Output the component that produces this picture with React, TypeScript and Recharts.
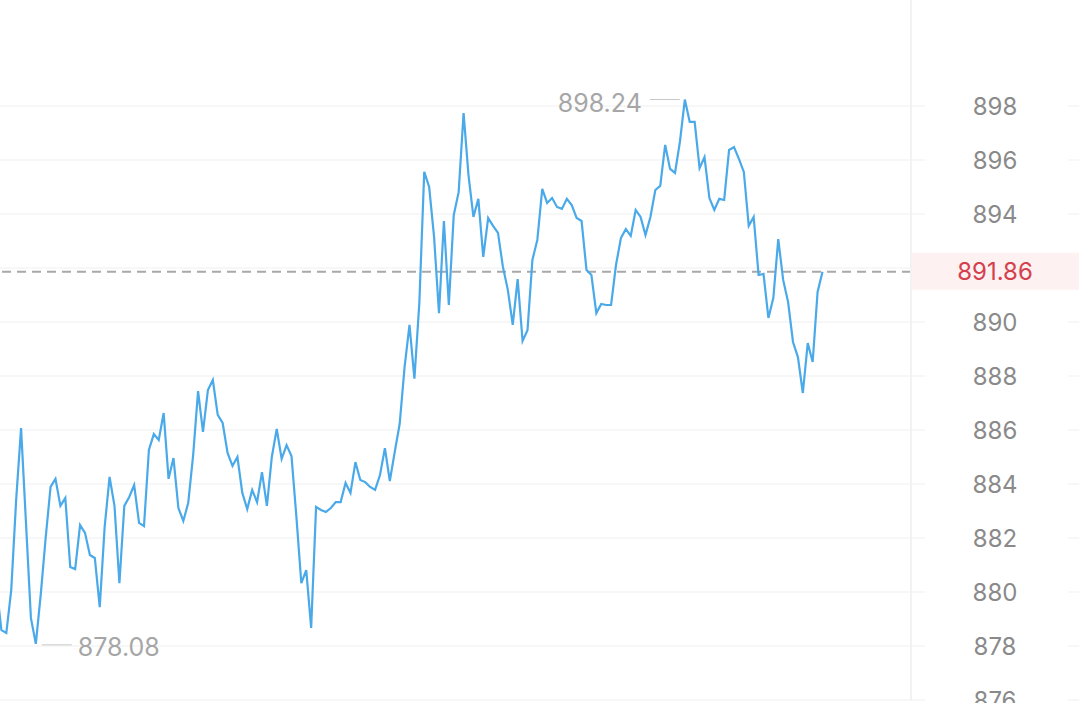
import { LineChart, Line, XAxis, YAxis, CartesianGrid, ReferenceLine } from 'recharts';

// minute prices, first point sits just left of the visible area
const prices = [
  880.2, 878.59, 878.48, 880.07, 883.41, 886.07, 882.56, 879.04, 878.08, 879.9,
  882.0, 883.89, 884.19, 883.19, 883.48, 880.93, 880.85, 882.48, 882.19, 881.37,
  881.26, 879.44, 882.41, 884.26, 883.19, 880.33, 883.19, 883.52, 883.96, 882.56,
  882.44, 885.26, 885.85, 885.63, 886.63, 884.19, 884.96, 883.11, 882.63, 883.3,
  885.07, 887.44, 885.93, 887.48, 887.85, 886.56, 886.26, 885.15, 884.67, 885.0,
  883.67, 883.07, 883.78, 883.33, 884.44, 883.19, 885.0, 886.04, 884.93, 885.44,
  885.04, 882.78, 880.33, 880.81, 878.67, 883.15, 883.04, 882.96, 883.11, 883.33,
  883.33, 884.04, 883.67, 884.81, 884.15, 884.07, 883.89, 883.78, 884.33, 885.33,
  884.11, 885.19, 886.22, 888.33, 889.89, 887.9, 890.7, 895.56, 895.0, 893.15,
  890.33, 893.74, 890.63, 893.96, 894.81, 897.74, 895.44, 893.89, 894.56, 892.41,
  893.85, 893.56, 893.3, 892.04, 891.19, 889.89, 891.59, 889.3, 889.7, 892.3,
  893.04, 894.93, 894.41, 894.59, 894.26, 894.19, 894.56, 894.33, 893.85, 893.74,
  891.93, 891.74, 890.33, 890.67, 890.63, 890.63, 892.11, 893.11, 893.44, 893.19,
  894.15, 893.89, 893.22, 893.89, 894.89, 895.04, 896.56, 895.67, 895.52, 896.67,
  898.24, 897.41, 897.41, 895.7, 896.11, 894.59, 894.15, 894.56, 894.52, 896.37,
  896.48, 896.04, 895.56, 893.56, 893.89, 891.74, 891.78, 890.15, 890.89, 893.07,
  891.56, 890.74, 889.26, 888.7, 887.37, 889.22, 888.52, 891.11, 891.86,
];

const yTicks = [876, 878, 880, 882, 884, 886, 888, 890, 894, 896, 898];
const gridValues = [876, 878, 880, 882, 884, 886, 888, 890, 892, 894, 896, 898];
const lastPrice = 891.86;

const data = prices.map((price, t) => ({ t, price }));
const maxIdx = prices.indexOf(Math.max(...prices));
const minIdx = prices.indexOf(Math.min(...prices));

const W = 1079;
const H = 703;
const AXIS_W = 168;
const FONT = 'Inter, Roboto, sans-serif';

const AxisTick = ({ y, payload }: any) => {
  const left = W - AXIS_W;
  return (
    <g>
      <line x1={left} x2={left + 14} y1={y} y2={y} stroke="#efefef" />
      <line x1={W - 11} x2={W} y1={y} y2={y} stroke="#efefef" />
      <text x={left + 84} y={y} textAnchor="middle" dominantBaseline="central" fill="#8a8a8a" fontSize={24} fontFamily={FONT}>
        {payload.value}
      </text>
    </g>
  );
};

const PriceTag = ({ viewBox }: any) => {
  const left = viewBox.x + viewBox.width;
  return (
    <g>
      <rect x={left} y={viewBox.y - 19} width={AXIS_W} height={37} fill="#fdf1f1" />
      <text x={left + 84} y={viewBox.y} textAnchor="middle" dominantBaseline="central" fill="#d5404d" fontSize={24} fontFamily={FONT}>
        {lastPrice.toFixed(2)}
      </text>
    </g>
  );
};

const ExtremeDot = (props: any) => {
  const { cx, cy, index } = props;
  if (index === maxIdx) {
    return (
      <g key="max">
        <line x1={cx - 35} x2={cx - 5} y1={cy} y2={cy} stroke="#c8c8c8" />
        <text x={cx - 43} y={cy + 3} textAnchor="end" dominantBaseline="central" fill="#a6a6a6" fontSize={25} fontFamily={FONT}>
          {prices[maxIdx].toFixed(2)}
        </text>
      </g>
    );
  }
  if (index === minIdx) {
    return (
      <g key="min">
        <line x1={cx + 6} x2={cx + 36} y1={cy + 1} y2={cy + 1} stroke="#c8c8c8" />
        <text x={cx + 42} y={cy + 3} textAnchor="start" dominantBaseline="central" fill="#a6a6a6" fontSize={25} fontFamily={FONT}>
          {prices[minIdx].toFixed(2)}
        </text>
      </g>
    );
  }
  return <g key={`d-${index}`} />;
};

export default function App() {
  return (
    <div style={{ position: 'absolute', left: 0, top: 0, width: W, height: H, overflow: 'hidden', background: '#fff' }}>
      <LineChart width={W} height={H} data={data} margin={{ top: 0, right: 0, bottom: 3, left: 0 }}>
        <CartesianGrid vertical={false} stroke="#efefef" horizontalValues={gridValues} />
        <XAxis type="number" dataKey="t" domain={[0.715, 186]} allowDataOverflow hide />
        <YAxis
          orientation="right"
          width={AXIS_W}
          domain={[876, 901.926]}
          allowDataOverflow
          ticks={yTicks}
          interval={0}
          tick={<AxisTick />}
          tickLine={false}
          axisLine={{ stroke: '#f2f2f2', strokeWidth: 2 }}
        />
        <ReferenceLine y={lastPrice} stroke="#a8a8a8" strokeWidth={2} strokeDasharray="9 6" label={<PriceTag />} />
        <Line
          type="linear"
          dataKey="price"
          stroke="#4aa9e9"
          strokeWidth={2.2}
          dot={ExtremeDot}
          activeDot={false}
          isAnimationActive={false}
        />
      </LineChart>
    </div>
  );
}
